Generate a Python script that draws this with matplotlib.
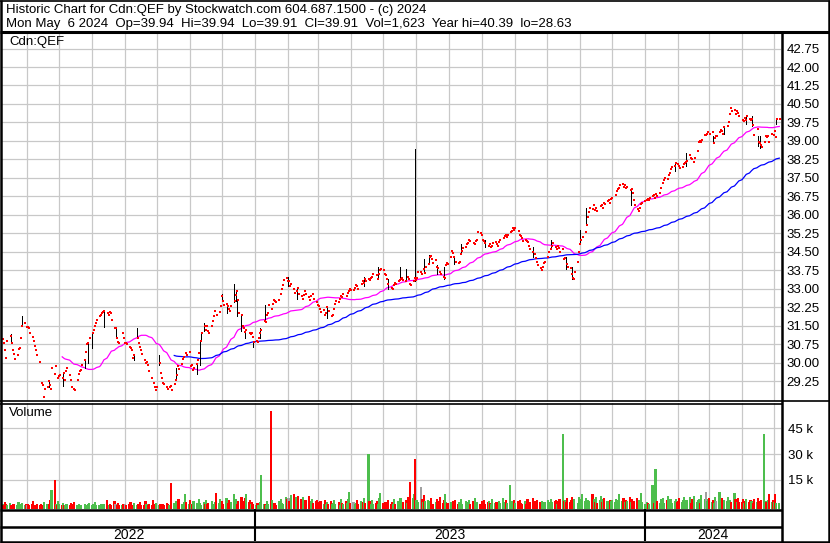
import numpy as np
import pandas as pd
import matplotlib
matplotlib.use("Agg")
import matplotlib.pyplot as plt
import matplotlib.dates as mdates
from matplotlib.lines import Line2D

plt.rcParams['font.family'] = ['Liberation Sans', 'DejaVu Sans']

# ---------------- data ----------------
close = [
    # 2022-05 (from May 9)
    30.95, 30.8, 30.5, 30.2, 30.9, 31.1, 30.8, 30.5, 30.35, 30.15, 30.3, 30.55, 30.6, 31.0, 31.5, 31.6, 31.45,
    # 2022-06
    31.45, 31.4, 31.2, 31.05, 30.9, 30.7, 30.5, 30.3, 30.05, 29.2, 29.1, 28.6, 28.95, 29.0, 29.25, 29.1, 28.95, 29.8, 29.55, 29.85, 29.4, 29.45,
    # 2022-07
    29.5, 29.4, 29.6, 29.3, 29.65, 29.8, 29.5, 29.3, 29.0, 28.95, 28.9, 29.3, 29.55, 29.65, 29.7, 29.9, 30.1, 30.45, 30.75, 30.8, 31.0,
    # 2022-08
    31.2, 31.35, 31.5, 31.6, 31.75, 31.9, 31.95, 32.0, 32.05, 32.1, 32.0, 31.95, 32.05, 32.0, 31.75, 31.4, 31.4, 31.0, 30.85, 30.8, 31.2, 31.0, 30.8,
    # 2022-09
    30.8, 30.75, 30.65, 30.6, 30.5, 30.2, 30.3, 31.0, 30.8, 30.65, 30.5, 30.35, 30.1, 30.0, 30.05, 29.9, 29.65, 29.4, 29.2, 29.0, 28.9, 29.0,
    # 2022-10
    30.0, 29.6, 29.4, 29.2, 29.15, 29.0, 28.95, 29.0, 29.05, 28.9, 29.15, 29.3, 29.5, 29.85, 29.75, 29.95, 30.15, 30.25, 30.4, 30.3, 30.45,
    # 2022-11
    29.85, 29.9, 29.7, 29.8, 29.95, 30.1, 30.4, 30.9, 31.2, 31.5, 31.35, 31.5, 31.3, 31.2, 31.5, 31.7, 31.9, 32.1, 31.95, 32.05, 32.3, 32.7,
    # 2022-12
    32.5, 32.35, 32.4, 32.3, 32.2, 32.1, 32.3, 32.5, 32.75, 32.9, 32.55, 32.0, 31.95, 31.5, 31.4, 31.25, 31.35, 31.2, 31.15, 31.2, 31.05, 30.85,
    # 2023-01
    30.9, 30.85, 31.0, 31.2, 31.35, 31.7, 31.65, 31.95, 32.0, 32.35, 32.2, 32.4, 32.55, 32.5, 32.45, 32.55, 32.8, 33.0, 33.15, 33.35, 33.45, 33.3,
    # 2023-02
    33.3, 33.1, 33.2, 33.0, 32.85, 32.9, 33.05, 32.8, 32.7, 32.6, 32.75, 32.9, 32.8, 32.65, 32.55, 32.7, 32.8, 32.6, 32.45, 32.35,
    # 2023-03
    32.3, 32.2, 32.05, 32.15, 31.95, 32.0, 32.25, 32.1, 31.9, 31.95, 32.2, 32.4, 32.5, 32.45, 32.6, 32.7, 32.65, 32.8, 32.7, 32.85, 32.9, 33.0, 32.95,
    # 2023-04
    32.95, 33.05, 33.15, 33.1, 33.0, 33.2, 33.3, 33.25, 33.4, 33.3, 33.4, 33.35, 33.45, 33.5, 33.6, 33.55, 33.4, 33.6, 33.75, 33.8,
    # 2023-05
    33.75, 33.6, 33.55, 33.4, 33.2, 33.05, 33.0, 33.15, 33.25, 33.2, 33.3, 33.35, 33.4, 33.45, 33.35, 33.3, 33.5, 33.4, 33.2, 33.15, 33.3, 33.45, 33.35,
    # 2023-06
    33.45, 33.7, 33.7, 33.6, 33.8, 33.65, 33.9, 34.0, 34.3, 34.35, 34.2, 34.05, 34.15, 33.9, 33.85, 33.7, 33.6, 33.5, 33.45, 33.95, 34.05, 34.0,
    # 2023-07
    34.3, 34.55, 34.45, 34.3, 34.1, 34.05, 34.1, 34.4, 34.55, 34.65, 34.7, 34.8, 34.85, 35.0, 34.95, 34.85, 34.8, 34.95, 35.0, 35.3, 35.25,
    # 2023-08
    35.2, 35.0, 34.95, 34.85, 34.75, 34.8, 34.7, 34.75, 34.85, 34.9, 34.8, 34.75, 34.9, 35.0, 35.05, 35.15, 35.2, 35.1, 35.2, 35.3, 35.35, 35.45, 35.4,
    # 2023-09
    35.45, 35.35, 35.2, 35.15, 35.05, 34.95, 35.0, 34.95, 34.9, 34.75, 34.6, 34.5, 34.4, 34.25, 34.1, 33.95, 33.85, 33.75, 33.9, 34.05, 34.1,
    # 2023-10
    34.3, 34.5, 34.6, 34.75, 34.85, 34.7, 34.6, 34.75, 34.65, 34.5, 34.6, 34.2, 34.25, 34.0, 33.9, 33.85, 33.6, 33.45, 33.4, 33.7, 34.1, 34.5,
    # 2023-11
    34.8, 35.0, 35.1, 35.3, 35.6, 35.9, 36.1, 36.3, 36.25, 36.4, 36.2, 36.3, 36.15, 36.35, 36.4, 36.3, 36.5, 36.45, 36.55, 36.6, 36.5, 36.65,
    # 2023-12
    36.7, 36.8, 36.95, 37.05, 37.1, 37.2, 37.25, 37.15, 37.2, 37.1, 37.15, 37.0, 37.05, 36.9, 36.6, 36.4, 36.25, 36.15, 36.3, 36.45, 36.5,
    # 2024-01
    36.55, 36.6, 36.65, 36.6, 36.7, 36.75, 36.8, 36.7, 36.85, 36.75, 36.9, 37.1, 37.3, 37.4, 37.5, 37.45, 37.6, 37.7, 37.85, 37.95, 38.0, 38.1, 38.05,
    # 2024-02
    38.0, 37.9, 37.95, 38.05, 38.1, 38.15, 38.2, 38.45, 38.3, 38.25, 38.15, 38.3, 38.6, 38.95, 39.0, 38.95, 39.05, 39.25, 39.25, 39.3, 39.35,
    # 2024-03
    39.3, 39.35, 38.9, 39.1, 39.2, 39.2, 39.35, 39.45, 39.4, 39.3, 39.55, 39.6, 39.75, 40.1, 40.35, 40.2, 40.25, 40.1, 40.2, 40.15, 40.0,
    # 2024-04
    39.85, 39.8, 39.95, 39.85, 40.0, 39.9, 39.85, 39.9, 39.65, 39.25, 39.5, 38.95, 38.9, 38.85, 38.75, 38.95, 39.2, 39.15, 39.2, 38.95, 39.3, 39.25,
    # 2024-05
    39.4, 39.15, 39.9, 39.91,
]

volume_k = [
    # 2022-05
    1.2, 0.5, 2.0, 0.8, 0.4, 1.5, 0.6, 0.3, 1.1, 0.7, 0.5, 2.2, 0.9, 0.4, 1.3, 0.6, 0.8,
    # 2022-06
    0.5, 1.0, 0.4, 0.7, 2.5, 0.6, 0.3, 1.2, 0.5, 0.9, 0.4, 0.6, 1.8, 0.7, 0.5, 1.0, 3.5, 8.8, 14.6, 1.2, 0.6, 2.4,
    # 2022-07
    0.8, 0.4, 1.5, 0.6, 0.3, 0.9, 0.5, 1.6, 0.4, 0.7, 2.1, 0.5, 0.3, 1.2, 0.6, 0.4, 0.9, 0.5, 0.3, 0.7, 1.4,
    # 2022-08
    0.5, 0.9, 0.4, 1.8, 0.6, 0.3, 0.7, 1.2, 0.4, 0.8, 3.2, 0.5, 0.6, 1.0, 0.4, 2.6, 0.7, 0.5, 1.3, 0.4, 0.6, 0.9, 0.5,
    # 2022-09
    1.1, 0.4, 0.7, 2.3, 0.5, 0.6, 1.5, 0.4, 0.8, 0.3, 1.9, 0.6, 0.5, 2.8, 0.7, 0.4, 1.2, 0.6, 3.0, 0.9, 0.5, 1.4,
    # 2022-10
    0.6, 1.2, 0.4, 0.8, 0.5, 1.7, 0.9, 0.4, 0.6, 12.9, 1.5, 0.7, 2.4, 0.5, 3.6, 1.1, 0.8, 1.9, 7.0, 2.2, 1.0,
    # 2022-11
    3.1, 1.2, 0.8, 2.6, 1.5, 0.9, 4.0, 1.3, 0.6, 2.2, 1.0, 3.4, 0.7, 1.6, 2.9, 1.1, 0.5, 2.0, 7.6, 1.4, 3.8, 1.2,
    # 2022-12
    2.5, 0.9, 4.2, 1.6, 3.3, 1.0, 2.1, 7.0, 1.5, 3.9, 0.8, 2.4, 5.1, 1.2, 2.8, 4.4, 6.6, 1.9, 3.0, 1.1, 2.2, 0.9,
    # 2023-01
    0.6, 1.4, 0.5, 2.0, 18.0, 1.1, 0.7, 0.5, 2.5, 1.2, 55.0, 3.0, 0.8, 1.6, 0.6, 2.7, 1.0, 4.1, 1.5, 0.9, 5.2, 3.6,
    # 2023-02
    4.6, 2.8, 5.9, 6.6, 3.2, 4.8, 2.1, 5.5, 3.7, 1.6, 4.9, 2.3, 3.1, 5.6, 1.8, 2.7, 4.0, 1.3, 2.5, 3.4,
    # 2023-03
    1.8, 0.9, 2.6, 1.2, 3.3, 0.7, 1.9, 1.1, 2.4, 0.8, 1.5, 3.0, 1.0, 2.2, 0.6, 4.1, 1.3, 0.9, 2.7, 1.6, 3.6, 8.0, 1.4,
    # 2023-04
    2.0, 0.8, 1.5, 3.1, 1.0, 2.4, 0.7, 1.8, 4.2, 1.3, 30.0, 2.6, 1.1, 3.4, 0.9, 1.7, 2.9, 1.2, 4.5, 7.6,
    # 2023-05
    1.5, 0.8, 2.3, 1.1, 3.0, 0.7, 1.9, 1.2, 3.8, 0.9, 2.5, 1.4, 4.6, 1.0, 2.1, 3.3, 1.6, 5.0, 2.7, 13.5, 4.2, 6.8, 27.3,
    # 2023-06
    3.5, 2.2, 11.0, 4.0, 1.8, 6.2, 2.4, 3.1, 1.5, 2.8, 4.3, 1.2, 2.0, 3.6, 1.4, 2.5, 4.8, 1.7, 3.0, 7.0, 2.2, 1.3,
    # 2023-07
    1.9, 0.8, 2.7, 1.3, 3.5, 0.9, 2.2, 1.6, 4.0, 1.1, 2.4, 0.7, 1.8, 3.1, 1.2, 2.6, 0.9, 4.2, 1.5, 2.3, 1.0,
    # 2023-08
    2.5, 1.1, 3.3, 0.8, 1.9, 2.7, 1.3, 0.9, 3.6, 1.5, 2.2, 0.7, 2.9, 1.4, 4.4, 1.0, 2.3, 3.1, 1.6, 11.9, 2.5, 1.2, 3.0,
    # 2023-09
    1.4, 2.6, 0.9, 3.2, 1.7, 1.1, 2.4, 0.8, 3.7, 1.3, 2.0, 4.5, 1.6, 2.8, 1.0, 3.5, 2.1, 1.2, 2.9, 1.5, 2.3,
    # 2023-10
    3.1, 1.4, 2.2, 4.0, 1.8, 2.7, 3.5, 1.2, 2.4, 3.9, 41.7, 2.6, 3.3, 1.9, 4.4, 2.1, 3.0, 5.2, 2.5, 3.6, 1.7, 4.9,
    # 2023-11
    2.4, 3.8, 6.5, 2.9, 4.6, 1.8, 3.2, 2.5, 7.0, 3.9, 2.2, 4.8, 1.6, 3.0, 5.3, 2.1, 3.7, 4.4, 2.7, 1.9, 3.4, 2.6,
    # 2023-12
    3.5, 2.2, 4.1, 1.7, 3.0, 6.5, 2.8, 4.6, 1.9, 3.3, 2.4, 5.0, 2.0, 3.6, 1.5, 2.9, 4.2, 1.8, 3.1, 7.6, 2.3,
    # 2024-01
    1.2, 0.8, 2.0, 1.5, 0.9, 12.0, 12.0, 1.7, 21.5, 2.6, 1.4, 3.8, 2.2, 4.5, 1.6, 3.2, 5.4, 2.0, 3.7, 1.3, 2.8, 4.1, 1.9,
    # 2024-02
    2.6, 4.4, 1.8, 3.5, 5.0, 2.2, 3.0, 4.7, 1.6, 3.9, 2.5, 5.6, 2.0, 3.3, 4.1, 1.7, 6.0, 3.6, 8.0, 2.4, 3.8,
    # 2024-03
    4.5, 2.1, 3.4, 1.6, 5.1, 2.8, 8.0, 3.0, 4.2, 1.9, 3.5, 2.6, 4.8, 1.5, 3.1, 2.3, 7.6, 3.9, 2.0, 4.4, 1.8,
    # 2024-04
    2.3, 3.6, 1.5, 2.8, 4.0, 1.9, 3.2, 2.4, 1.3, 3.7, 2.1, 4.3, 1.7, 2.9, 3.4, 41.7, 2.6, 1.8, 3.0, 7.0, 2.2, 3.5,
    # 2024-05
    2.0, 6.5, 1.5, 1.623,
]

# visible high-low ranges (date, low, high)
range_dates = ['2022-05-17', '2022-05-27', '2022-06-22', '2022-07-05', '2022-07-25', '2022-07-28',
               '2022-08-01', '2022-08-12', '2022-08-23', '2022-09-09', '2022-09-12', '2022-10-03',
               '2022-10-19', '2022-11-07', '2022-11-10', '2022-11-11', '2022-11-14', '2022-12-01',
               '2022-12-05', '2022-12-12', '2022-12-14', '2022-12-15', '2022-12-19', '2022-12-22',
               '2022-12-30', '2023-01-05', '2023-01-10', '2023-02-01', '2023-02-09', '2023-03-09',
               '2023-04-13', '2023-04-26', '2023-05-05', '2023-05-17', '2023-05-22', '2023-05-31',
               '2023-06-08', '2023-06-13', '2023-06-20', '2023-06-27', '2023-07-06', '2023-07-13',
               '2023-08-04', '2023-09-18', '2023-10-05', '2023-10-19', '2023-10-25', '2023-11-01',
               '2023-11-07', '2023-12-19', '2024-01-29', '2024-02-09', '2024-03-05', '2024-03-15',
               '2024-04-05', '2024-04-10', '2024-04-16', '2024-04-18', '2024-05-03']
range_low = [30.9, 31.5, 29.0, 29.05, 29.8, 30.0, 30.6, 31.45, 31.0, 30.1, 31.0, 29.9,
             29.3, 29.55, 29.9, 30.9, 31.3, 32.55, 32.0, 32.45, 32.5, 31.9, 31.3, 31.0,
             30.65, 31.0, 32.2, 33.1, 32.6, 31.8, 33.1, 33.4, 33.0, 33.4, 33.35, 33.3,
             33.8, 34.1, 33.6, 33.4, 34.0, 34.5, 34.7, 34.3, 34.6, 33.8, 33.4, 34.9,
             35.9, 36.4, 37.8, 38.0, 38.9, 39.3, 39.7, 39.6, 38.8, 38.7, 39.7]
range_high = [31.15, 31.9, 29.3, 29.3, 30.1, 30.4, 30.85, 31.75, 31.4, 30.3, 31.4, 30.3,
              29.8, 29.9, 30.1, 31.15, 31.6, 32.8, 32.3, 33.2, 32.9, 32.1, 31.5, 31.3,
              30.8, 31.4, 32.35, 33.5, 33.0, 32.2, 33.5, 33.9, 33.4, 33.87, 33.8, 38.66,
              34.2, 34.37, 33.95, 33.9, 34.35, 34.8, 35.0, 34.7, 35.0, 34.3, 33.9, 35.4,
              36.3, 36.9, 38.1, 38.5, 39.2, 39.6, 40.0, 40.0, 39.2, 39.2, 39.87]

price_ticks = [29.25, 30.00, 30.75, 31.50, 32.25, 33.00, 33.75, 34.50, 35.25, 36.00,
               36.75, 37.50, 38.25, 39.00, 39.75, 40.50, 41.25, 42.00, 42.75]
vol_ticks = [15, 30, 45]
vol_tick_labels = ['15 k', '30 k', '45 k']
years = ['2022', '2023', '2024']

header1 = "Historic Chart for Cdn:QEF by Stockwatch.com 604.687.1500 - (c) 2024"
header2 = "Mon May  6 2024  Op=39.94  Hi=39.94  Lo=39.91  Cl=39.91  Vol=1,623  Year hi=40.39  lo=28.63"

# ---------------- build series ----------------
dates = pd.bdate_range('2022-05-09', '2024-05-06')
n = min(len(dates), len(close), len(volume_k))
dates = dates[:n]
s_close = pd.Series(close[:n], index=dates)
vol = np.array(volume_k[:n])
ma_fast = s_close.rolling(41).mean()
ma_slow = s_close.rolling(116).mean()
xd = mdates.date2num(dates.to_pydatetime())

chg = np.diff(np.concatenate([[s_close.iloc[0] - 1], s_close.values]))
vcol = np.where(chg > 0, '#4DBE4D', np.where(chg < 0, '#FF0000', '#A0A0A0'))

# ---------------- figure ----------------
W, H = 830, 543
fig = plt.figure(figsize=(W / 100, H / 100), dpi=100)
fig.patch.set_facecolor('white')


def rect(x0, y0, x1, y1):
    return [x0 / W, 1 - y1 / H, (x1 - x0) / W, (y1 - y0) / H]


xmin = mdates.date2num(pd.Timestamp('2022-05-08 14:00').to_pydatetime())
xmax = mdates.date2num(pd.Timestamp('2024-05-07 14:00').to_pydatetime())
month_starts = mdates.date2num(pd.date_range('2022-06-01', '2024-05-01', freq='MS').to_pydatetime())
grid_c = '#C8C8C8'

axp = fig.add_axes(rect(2, 32, 781, 401))
axv = fig.add_axes(rect(2, 403, 781, 509))
axy = fig.add_axes(rect(2, 509, 781, 541))

for ax in (axp, axv, axy):
    ax.set_xlim(xmin, xmax)
    for sp in ax.spines.values():
        sp.set_visible(False)
    ax.set_xticks([])
    ax.patch.set_alpha(0)

# price panel
axp.set_ylim(28.45, 43.42)
axp.set_yticks(price_ticks)
axp.set_yticklabels([f"{t:.2f}" for t in price_ticks], fontsize=9.5)
axp.yaxis.tick_right()
axp.tick_params(axis='y', length=0, pad=4)
for t in price_ticks:
    axp.axhline(t, color=grid_c, lw=0.9, zorder=0)
for m in month_starts:
    axp.axvline(m, color=grid_c, lw=0.9, zorder=0)

rd = mdates.date2num(pd.to_datetime(range_dates).to_pydatetime())
rc = s_close.reindex(pd.to_datetime(range_dates)).values
lo = np.minimum(range_low, rc)
hi = np.maximum(range_high, rc)
axp.vlines(rd, lo, hi, color='black', lw=0.5, zorder=3, antialiased=False)
axp.scatter(xd + 0.6, s_close.values, marker='s', s=4.0, color='#FF0000', linewidths=0,
            zorder=4, antialiased=False)
axp.plot(xd, ma_fast.values, color='#FF00FF', lw=0.9, zorder=2)
axp.plot(xd, ma_slow.values, color='#0000FF', lw=0.9, zorder=2)

# volume panel
axv.set_ylim(-2.0, 59.7)
axv.set_yticks(vol_ticks)
axv.set_yticklabels(vol_tick_labels, fontsize=9.5)
axv.yaxis.tick_right()
axv.tick_params(axis='y', length=0, pad=5)
for t in vol_ticks:
    axv.axhline(t, color=grid_c, lw=0.9, zorder=0)
for m in month_starts:
    axv.axvline(m, color=grid_c, lw=0.9, zorder=0)
axv.bar(xd, vol + 2.0, bottom=-2.0, width=2.0, color=vcol, linewidth=0, align='center',
        zorder=2, antialiased=False)

# year band
axy.set_ylim(0, 32)
axy.set_yticks([])
ybounds = mdates.date2num(pd.to_datetime(['2023-01-01', '2024-01-01']).to_pydatetime())
edges = [xmin] + list(ybounds) + [xmax]
for i, yr in enumerate(years):
    axy.text((edges[i] + edges[i + 1]) / 2, 6, yr, ha='center', va='center', fontsize=10)
axy.vlines(ybounds, 0, 32, color='black', lw=1.5)

# ---------------- frame lines (pixel coordinates) ----------------
def hline(y, x0, x1, lw):
    fig.add_artist(Line2D([x0 / W, x1 / W], [1 - y / H, 1 - y / H], color='black', lw=lw,
                          transform=fig.transFigure, solid_capstyle='butt'))


def vline(x, y0, y1, lw):
    fig.add_artist(Line2D([x / W, x / W], [1 - y0 / H, 1 - y1 / H], color='black', lw=lw,
                          transform=fig.transFigure, solid_capstyle='butt'))


hline(0.5, 0, 830, 1.2)
hline(31.5, 0, 830, 2.2)
hline(401, 0, 830, 1.2)
hline(403.5, 0, 782, 1.2)
hline(509.5, 0, 782, 1.8)
hline(527, 0, 782, 1.8)
hline(542, 0, 830, 1.8)
vline(1, 0, 543, 1.8)
vline(829, 0, 543, 1.8)
vline(782, 31.5, 543, 1.8)

# ---------------- texts ----------------
fig.text(6 / W, 1 - 10 / H, header1, fontsize=9.5, va='center', ha='left')
fig.text(6 / W, 1 - 23.5 / H, header2, fontsize=9.5, va='center', ha='left')
fig.text(9 / W, 1 - 42 / H, "Cdn:QEF", fontsize=9.5, va='center', ha='left')
fig.text(9 / W, 1 - 413 / H, "Volume", fontsize=9.5, va='center', ha='left')

fig.savefig('out.png', dpi=100)
